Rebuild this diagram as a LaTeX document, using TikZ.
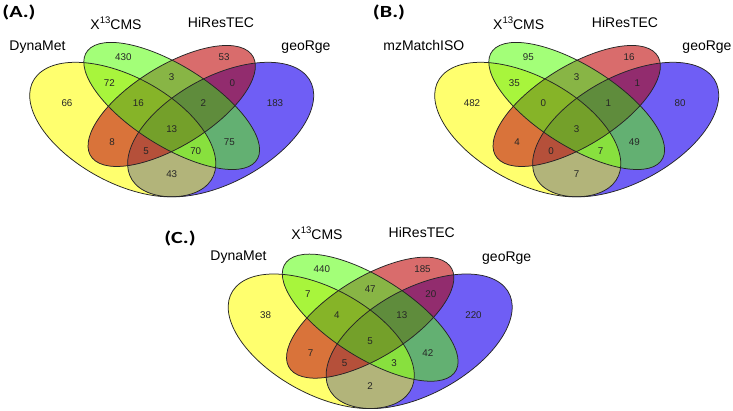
\documentclass[tikz,border=0pt]{standalone}
\usepackage{fontspec}
\setmainfont{Liberation Sans}
\newfontfamily\calib{Carlito}
\definecolor{cY}{HTML}{FFFF6E}
\definecolor{cG}{HTML}{A3FF78}
\definecolor{cR}{HTML}{D96C6C}
\definecolor{cB}{HTML}{6F5EF5}
\definecolor{cYG}{HTML}{A8F53C}
\definecolor{cYR}{HTML}{D9733A}
\definecolor{cYB}{HTML}{B2B47A}
\definecolor{cGR}{HTML}{88B545}
\definecolor{cGB}{HTML}{63B072}
\definecolor{cRB}{HTML}{922C6E}
\definecolor{cYGR}{HTML}{86B428}
\definecolor{cYGB}{HTML}{88E03E}
\definecolor{cYRB}{HTML}{B5503A}
\definecolor{cGRB}{HTML}{5F8C3C}
\definecolor{cYGRB}{HTML}{74A02A}
\tikzset{
  num/.style={font=\fontsize{9.8}{10}\selectfont, text=black!85, inner sep=0pt},
  cat/.style={font=\fontsize{14}{14}\selectfont, inner sep=0pt},
  paneltag/.style={font=\calib\bfseries\fontsize{17}{17}\selectfont, inner sep=0pt, xscale=1.3},
  outline/.style={draw=black!85, line width=0.75pt},
}
\newcommand\eY[1]{#1[rotate around={135:(0.35,0.47)}] (0.35,0.47) ellipse [x radius=0.35, y radius=0.2];}
\newcommand\eG[1]{#1[rotate around={135:(0.5,0.57)}] (0.5,0.57) ellipse [x radius=0.35, y radius=0.15];}
\newcommand\eR[1]{#1[rotate around={45:(0.5,0.57)}] (0.5,0.57) ellipse [x radius=0.33, y radius=0.15];}
\newcommand\eB[1]{#1[rotate around={45:(0.65,0.47)}] (0.65,0.47) ellipse [x radius=0.35, y radius=0.2];}
\newcommand\rgn[2]{\begin{scope}#2\fill[#1] (0,0) rectangle (1,1);\end{scope}}
\newcommand\vennshapes{%
  \eY{\fill[cY]}\eG{\fill[cG]}\eR{\fill[cR]}\eB{\fill[cB]}%
  \rgn{cYG}{\eY{\clip}\eG{\clip}}%
  \rgn{cYR}{\eY{\clip}\eR{\clip}}%
  \rgn{cYB}{\eY{\clip}\eB{\clip}}%
  \rgn{cGR}{\eG{\clip}\eR{\clip}}%
  \rgn{cGB}{\eG{\clip}\eB{\clip}}%
  \rgn{cRB}{\eR{\clip}\eB{\clip}}%
  \rgn{cYGR}{\eY{\clip}\eG{\clip}\eR{\clip}}%
  \rgn{cYGB}{\eY{\clip}\eG{\clip}\eB{\clip}}%
  \rgn{cYRB}{\eY{\clip}\eR{\clip}\eB{\clip}}%
  \rgn{cGRB}{\eG{\clip}\eR{\clip}\eB{\clip}}%
  \rgn{cYGRB}{\eY{\clip}\eG{\clip}\eR{\clip}\eB{\clip}}%
  \eY{\draw[outline]}\eG{\draw[outline]}\eR{\draw[outline]}\eB{\draw[outline]}%
}
\def\PXs{{123.3,224,109.3,171.7,232.3,67,138.3,203.3,275,171.7,112,229.3,146,195.7,171.7}}
\def\PYs{{353.7,353.7,328.3,333.7,328.3,307.7,307.7,307.7,307.7,281.7,269.3,269.3,260,260,236.7}}
\newcommand\vennpanel[3]{%
  \begin{scope}[shift={#2}]
    \begin{scope}[shift={(8.5,170.5)}, xscale=326.4, yscale=236]
      \vennshapes
    \end{scope}
    \foreach [count=\i] \v in {#3} {
      \pgfmathsetmacro\px{\PXs[\i-1]}
      \pgfmathsetmacro\py{\PYs[\i-1]}
      \node[num] (#1n\i) at (\px,\py) {\v};
    }
  \end{scope}}
\newcommand\xcms{X\raisebox{0.42em}{\fontsize{9.5}{9.5}\selectfont 13}CMS}
\begin{document}
\begin{tikzpicture}[x=1pt,y=1pt]
\fill[white] (0,0) rectangle (733,411);
\useasboundingbox (0,0) rectangle (733,411);

\vennpanel{A}{(0,0)}{430,53,72,3,0,66,16,2,183,13,8,75,5,70,43}
\vennpanel{B}{(405,0)}{95,16,35,3,1,482,0,1,80,3,4,49,0,7,7}
\vennpanel{C}{(198.5,-211.7)}{440,185,7,47,20,38,4,13,220,5,7,42,5,3,2}

% panel A labels
\node[paneltag] (tagA) at (19,399) {(A.)};
\node[cat] (A-x) at (116,388) {\xcms};
\node[cat] (A-h) at (221,388) {HiResTEC};
\node[cat] (A-d) at (37.5,363.5) {DynaMet};
\node[cat] (A-g) at (306,363.5) {geoRge};
% panel B labels
\node[paneltag] (tagB) at (389,399) {(B.)};
\node[cat] (B-x) at (518.7,388) {\xcms};
\node[cat] (B-h) at (625,388) {HiResTEC};
\node[cat] (B-m) at (423.8,365) {mzMatchISO};
\node[cat] (B-g) at (707,363.5) {geoRge};
% panel C labels
\node[paneltag] (tagC) at (180,173) {(C.)};
\node[cat] (C-x) at (317,178) {\xcms};
\node[cat] (C-h) at (421.7,178) {HiResTEC};
\node[cat] (C-d) at (238.5,153.5) {DynaMet};
\node[cat] (C-g) at (506.7,153) {geoRge};
\end{tikzpicture}
\end{document}
